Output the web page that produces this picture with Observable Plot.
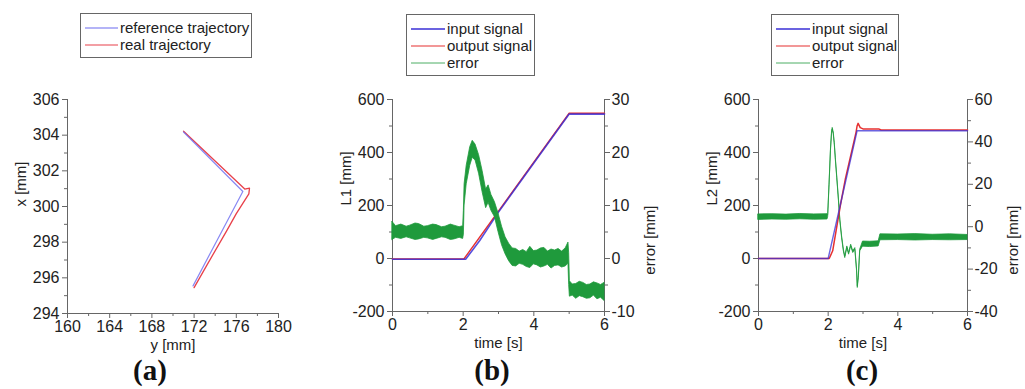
<!DOCTYPE html>
<html>
<head>
<meta charset="utf-8">
<script src="https://cdn.jsdelivr.net/npm/d3@7"></script>
<script src="https://cdn.jsdelivr.net/npm/@observablehq/plot@0.6"></script>
<style>
  html, body { margin: 0; padding: 0; background: #fff; }
  #root { position: relative; width: 1025px; height: 389px; overflow: hidden; background: #fff;
          font-family: "Liberation Sans", Arial, sans-serif; color: #222; }
  .panel { position: absolute; top: 0; }
  .legend { position: absolute; border: 1px solid #666; background: #fff; box-sizing: border-box;
            font-size: 15px; color: #222; }
  .legend .row { position: absolute; left: 0; height: 17px; line-height: 17px; white-space: nowrap; }
  .legend svg { position: absolute; top: 0; }
  .legend span { position: absolute; top: 0; }
  .plabel { position: absolute; font-family: "Liberation Serif", "Times New Roman", serif; font-weight: bold;
            font-size: 29px; line-height: 30px; color: #111; transform: translateX(-50%); }
</style>
</head>
<body>
<div id="root"></div>
<script>
// ---------------- DATA ----------------
// Panel (a): trajectories in the plane (y [mm] horizontal, x [mm] vertical)
const refTrajY  = [171.0, 176.62, 171.9];
const refTrajX  = [304.18, 300.84, 295.55];
const realTrajY = [171.0, 176.8, 177.25, 177.19, 176.0, 175.1, 173.2, 172.0];
const realTrajX = [304.22, 300.98, 301.03, 300.71, 299.6, 298.65, 296.7, 295.45];

// Panel (b): L1 input / output
const inB_t  = [0, 2.07, 2.47, 3.0, 5.0, 6];
const inB_L  = [-3, -3, 68, 175, 545, 545];
const outB_t = [0, 2.02, 5.0, 6];
const outB_L = [-2, -2, 548, 548];
// Panel (b): error envelope (error [mm])
const errB_t  = [0, 0.1, 0.25, 0.4, 0.5, 0.65, 0.75, 0.9, 1.0, 1.15, 1.25, 1.4, 1.5, 1.65, 1.75, 1.9, 2.0, 2.02, 2.04, 2.1, 2.2, 2.27, 2.35, 2.45, 2.55, 2.65, 2.72, 2.8, 2.9, 3.0, 3.1, 3.2, 3.3, 3.4, 3.5, 3.6, 3.7, 3.8, 3.9, 4.0, 4.1, 4.2, 4.3, 4.4, 4.5, 4.6, 4.7, 4.8, 4.9, 4.98, 5.0, 5.02, 5.1, 5.2, 5.3, 5.4, 5.5, 5.6, 5.7, 5.8, 5.9, 6.0];
const errB_lo = [3.5, 3.9, 3.7, 4.0, 3.8, 3.5, 3.6, 3.9, 3.8, 3.5, 3.7, 4.0, 3.9, 3.5, 3.6, 3.9, 3.7, 4.5, 10, 14, 17.5, 19, 18.5, 16, 12.5, 9.5, 10.5, 9, 7.8, 5, 2.5, 0.8, -0.5, -1.4, -1.5, -1.0, -1.2, -1.6, -1.8, -1.1, -1.3, -1.7, -1.5, -1.2, -1.9, -1.4, -1.3, -1.7, -1.5, -1.0, -5, -7.2, -7.0, -7.6, -7.1, -7.3, -7.6, -7.5, -7.0, -7.7, -7.4, -8.0];
const errB_hi = [6.9, 6.1, 6.4, 6.0, 6.2, 6.6, 6.5, 6.0, 6.1, 6.4, 6.3, 5.9, 6.0, 6.4, 6.2, 5.9, 6.1, 9, 14, 17.5, 21, 22.2, 21.5, 19.5, 16.5, 13, 13.8, 12, 10.6, 8.5, 6, 4, 2.8, 1.9, 1.8, 1.3, 1.6, 1.2, 2.2, 1.4, 1.5, 1.9, 2.0, 1.3, 1.7, 1.5, 1.8, 1.3, 1.9, 3.0, 1.0, -4.3, -4.9, -4.8, -4.4, -4.6, -5.0, -4.9, -4.5, -4.7, -5.0, -4.6];

// Panel (c): L2 input / output
const inC_t  = [0, 2.0, 2.83, 6];
const inC_L  = [0, 0, 482, 482];
const outC_t = [0, 2.03, 2.13, 2.35, 2.49, 2.7, 2.8, 2.83, 2.86, 2.92, 3.0, 3.45, 3.52, 6];
const outC_L = [0, 0, 29, 200, 298, 418, 476, 500, 510, 494, 489, 489, 485, 485];
// Panel (c): error envelope (error [mm])
const errC_t  = [0, 0.4, 0.8, 1.2, 1.6, 1.98, 2.0, 2.04, 2.08, 2.11, 2.13, 2.16, 2.19, 2.22, 2.26, 2.31, 2.35, 2.40, 2.45, 2.49, 2.55, 2.60, 2.66, 2.72, 2.78, 2.83, 2.85, 2.88, 2.92, 3.0, 3.2, 3.45, 3.5, 4.0, 4.5, 5.0, 5.5, 6.0];
const errC_lo = [3.2, 3.4, 3.3, 3.5, 3.3, 3.4, 4.6, 19.6, 35.6, 43.6, 45.8, 43.6, 38.6, 31.5, 22.9, 12.0, 2.5, -5.4, -11.6, -14.8, -10.1, -13.2, -9.3, -12.4, -10.9, -21.1, -28.9, -24.1, -11.6, -9.4, -9.6, -9.3, -6.4, -6.3, -6.5, -6.3, -6.4, -6.3];
const errC_hi = [5.8, 5.9, 5.7, 6.0, 5.8, 5.9, 5.4, 20.4, 36.4, 44.4, 46.6, 44.4, 39.4, 32.3, 23.7, 12.8, 3.3, -4.6, -10.8, -14.0, -9.3, -12.4, -8.5, -11.6, -10.1, -20.3, -28.1, -23.3, -10.8, -7.0, -7.1, -6.9, -3.6, -3.7, -3.5, -3.8, -3.6, -3.9];

// Axis ticks
const aXMajor = [160, 164, 168, 172, 176, 180];
const aXMinor = [162, 166, 170, 174, 178];
const aYMajor = [294, 296, 298, 300, 302, 304, 306];
const aYMinor = [295, 297, 299, 301, 303, 305];
const tMajor = [0, 2, 4, 6];
const tMinor = [1, 3, 5];
const LMajor = [-200, 0, 200, 400, 600];
const LMinor = [-100, 100, 300, 500];
const errBMajor = [-10, 0, 10, 20, 30];
const errBMinor = [-5, 5, 15, 25];
const errCMajor = [-40, -20, 0, 20, 40, 60];
const errCMinor = [-30, -10, 10, 30, 50];

// ---------------- STYLE ----------------
const FONT = '"Liberation Sans", Arial, sans-serif';
const AX = "#666", TXT = "#222";
const BLUE_A = "#6a6af0", RED_A = "#e8404a";
const BLUE = "#3a2fd6", RED = "#e63030", GREEN = "#1f9a3c";
const TICKFS = 16, LABFS = 15;

const zip = (ts, vs) => ts.map((t, i) => ({t, v: vs[i]}));
const band = (ts, lo, hi) => ts.map((t, i) => ({t, lo: lo[i], hi: hi[i]}));

function axesCommon(xMaj, xMin, yMaj, yMin, xLabel, yLabel, x0, y0) {
  return [
    Plot.ruleX([x0], {stroke: AX, strokeWidth: 1}),
    Plot.ruleY([y0], {stroke: AX, strokeWidth: 1}),
    Plot.axisX({ticks: xMaj, tickSize: 5, tickPadding: 2, stroke: AX, fill: TXT, fontSize: TICKFS, label: null, tickFormat: d => String(d)}),
    Plot.axisX({ticks: xMin, tickSize: 3, stroke: AX, label: null, tickFormat: () => ""}),
    Plot.axisY({ticks: yMaj, tickSize: 5, tickPadding: 3, stroke: AX, fill: TXT, fontSize: TICKFS, label: null, tickFormat: d => String(d)}),
    Plot.axisY({ticks: yMin, tickSize: 3, stroke: AX, label: null, tickFormat: () => ""}),
    Plot.text([xLabel], {frameAnchor: "bottom", dy: 36, fill: TXT, fontSize: LABFS}),
    Plot.text([yLabel], {frameAnchor: "left", dx: -46, rotate: -90, fill: TXT, fontSize: LABFS})
  ];
}

// ---------------- PANEL (a) ----------------
const plotA = Plot.plot({
  width: 340, height: 389,
  marginLeft: 67, marginRight: 62, marginTop: 99, marginBottom: 76,
  x: {domain: [160, 180]},
  y: {domain: [294, 306]},
  style: {fontFamily: FONT, fontSize: "16px", background: "transparent", overflow: "visible"},
  marks: [
    ...axesCommon(aXMajor, aXMinor, aYMajor, aYMinor, "y [mm]", "x [mm]", 160, 294),
    Plot.line(realTrajY.map((y, i) => ({y, x: realTrajX[i]})), {x: "y", y: "x", stroke: RED_A, strokeWidth: 1.3}),
    Plot.line(refTrajY.map((y, i) => ({y, x: refTrajX[i]})), {x: "y", y: "x", stroke: BLUE_A, strokeWidth: 1.2, strokeOpacity: 0.8})
  ]
});

// ---------------- PANEL (b) ----------------
const toLb = e => 20 * e;
const plotB = Plot.plot({
  width: 340, height: 389,
  marginLeft: 52, marginRight: 76, marginTop: 99, marginBottom: 78,
  x: {domain: [0, 6]},
  y: {domain: [-200, 600]},
  style: {fontFamily: FONT, fontSize: "16px", background: "transparent", overflow: "visible"},
  marks: [
    ...axesCommon(tMajor, tMinor, LMajor, LMinor, "time [s]", "L1 [mm]", 0, -200),
    Plot.ruleX([6], {stroke: AX, strokeWidth: 1}),
    Plot.axisY({anchor: "right", ticks: errBMajor.map(toLb), tickSize: 5, tickPadding: 2, stroke: AX, fill: TXT, fontSize: TICKFS, label: null, tickFormat: d => String(d / 20)}),
    Plot.axisY({anchor: "right", ticks: errBMinor.map(toLb), tickSize: 3, stroke: AX, label: null, tickFormat: () => ""}),
    Plot.text(["error [mm]"], {frameAnchor: "right", dx: 46, rotate: -90, fill: TXT, fontSize: LABFS}),
    Plot.line(zip(outB_t, outB_L), {x: "t", y: "v", stroke: RED, strokeWidth: 1.4}),
    Plot.line(zip(inB_t, inB_L), {x: "t", y: "v", stroke: BLUE, strokeWidth: 1.6, strokeOpacity: 0.85}),
    Plot.areaY(band(errB_t, errB_lo, errB_hi), {x: "t", y1: d => toLb(d.lo), y2: d => toLb(d.hi), fill: GREEN, stroke: GREEN, strokeWidth: 0.8})
  ]
});

// ---------------- PANEL (c) ----------------
const toLc = e => 8 * e + 120;
const plotC = Plot.plot({
  width: 345, height: 389,
  marginLeft: 78, marginRight: 58, marginTop: 99, marginBottom: 78,
  x: {domain: [0, 6]},
  y: {domain: [-200, 600]},
  style: {fontFamily: FONT, fontSize: "16px", background: "transparent", overflow: "visible"},
  marks: [
    ...axesCommon(tMajor, tMinor, LMajor, LMinor, "time [s]", "L2 [mm]", 0, -200),
    Plot.ruleX([6], {stroke: AX, strokeWidth: 1}),
    Plot.axisY({anchor: "right", ticks: errCMajor.map(toLc), tickSize: 5, tickPadding: 2, stroke: AX, fill: TXT, fontSize: TICKFS, label: null, tickFormat: d => String(Math.round((d - 120) / 8))}),
    Plot.axisY({anchor: "right", ticks: errCMinor.map(toLc), tickSize: 3, stroke: AX, label: null, tickFormat: () => ""}),
    Plot.text(["error [mm]"], {frameAnchor: "right", dx: 46, rotate: -90, fill: TXT, fontSize: LABFS}),
    Plot.areaY(band(errC_t, errC_lo, errC_hi), {x: "t", y1: d => toLc(d.lo), y2: d => toLc(d.hi), fill: GREEN, stroke: GREEN, strokeWidth: 0.8}),
    Plot.line(zip(outC_t, outC_L), {x: "t", y: "v", stroke: RED, strokeWidth: 1.5}),
    Plot.line(zip(inC_t, inC_L), {x: "t", y: "v", stroke: BLUE, strokeWidth: 1.4, strokeOpacity: 0.75})
  ]
});

// ---------------- LAYOUT ----------------
const root = document.getElementById("root");
function place(el, left) { el.classList.add("panel"); el.style.left = left + "px"; root.appendChild(el); }
place(plotA, 0);
place(plotB, 340);
place(plotC, 680);

function legend(left, top, width, entries, lineW, textX) {
  const box = document.createElement("div");
  box.className = "legend";
  box.style.left = left + "px"; box.style.top = top + "px"; box.style.width = width + "px";
  box.style.height = (entries.length * 17 + 11) + "px";
  entries.forEach((e, i) => {
    const row = document.createElement("div");
    row.className = "row";
    row.style.top = (5 + i * 17) + "px";
    row.style.width = width + "px";
    const svg = document.createElementNS("http://www.w3.org/2000/svg", "svg");
    svg.setAttribute("width", lineW + 4); svg.setAttribute("height", 17);
    svg.style.left = "3px";
    const ln = document.createElementNS("http://www.w3.org/2000/svg", "line");
    ln.setAttribute("x1", 1); ln.setAttribute("x2", lineW + 1);
    ln.setAttribute("y1", 9); ln.setAttribute("y2", 9);
    ln.setAttribute("stroke", e.color); ln.setAttribute("stroke-width", e.w);
    svg.appendChild(ln);
    const sp = document.createElement("span");
    sp.textContent = e.label; sp.style.left = textX + "px";
    row.appendChild(svg); row.appendChild(sp);
    box.appendChild(row);
  });
  root.appendChild(box);
}
legend(80, 13, 172, [{label: "reference trajectory", color: BLUE_A, w: 1.2}, {label: "real trajectory", color: RED_A, w: 1.2}], 33, 39);
legend(406, 14, 129, [{label: "input signal", color: BLUE, w: 1.5}, {label: "output signal", color: RED, w: 1.2}, {label: "error", color: GREEN, w: 0.8}], 34, 40);
legend(771, 14, 128, [{label: "input signal", color: BLUE, w: 1.5}, {label: "output signal", color: RED, w: 1.2}, {label: "error", color: GREEN, w: 0.8}], 34, 40);

function plabel(text, cx) {
  const d = document.createElement("div");
  d.className = "plabel"; d.textContent = text;
  d.style.left = cx + "px"; d.style.top = "355px";
  root.appendChild(d);
}
plabel("(a)", 150);
plabel("(b)", 492);
plabel("(c)", 862);
</script>
</body>
</html>
